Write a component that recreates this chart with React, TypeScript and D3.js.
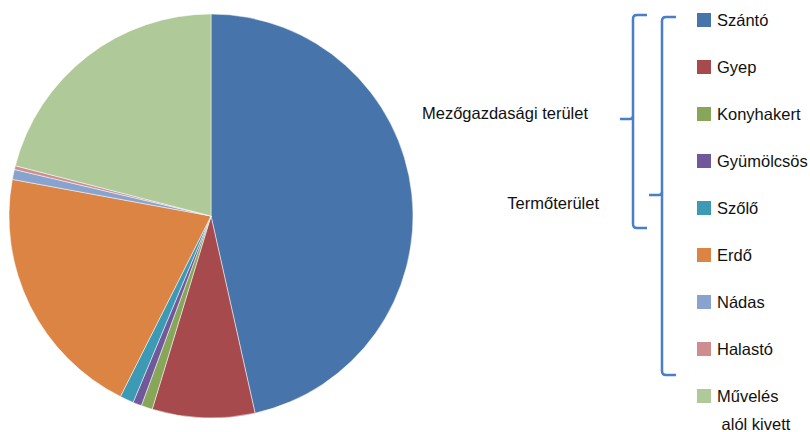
import { useRef, useEffect } from 'react';
import * as d3 from 'd3';

// land use categories and share (%)
const categories = ['Szántó', 'Gyep', 'Konyhakert', 'Gyümölcsös', 'Szőlő', 'Erdő', 'Nádas', 'Halastó', 'Művelés alól kivett'];
const shares = [46.5, 8.2, 0.9, 0.7, 1.1, 20.5, 0.8, 0.3, 21.0];
const colors = ['#4674AB', '#A74A4D', '#88A65A', '#71589A', '#3C9AB4', '#DB8444', '#89A3CF', '#CE8E90', '#AFC998'];
// legend lines (last label wraps)
const legendLines = [['Szántó'], ['Gyep'], ['Konyhakert'], ['Gyümölcsös'], ['Szőlő'], ['Erdő'], ['Nádas'], ['Halastó'], ['Művelés', ' alól kivett']];
// groups: label, first and last category index
const groupLabels = ['Mezőgazdasági terület', 'Termőterület'];
const groupRanges = [[0, 4], [0, 7]];

function App() {
    const svgRef = useRef<SVGSVGElement>(null);

    useEffect(() => {
        const width = 810;
        const height = 432;
        const cx = 211, cy = 216, r = 202;

        const svg = d3.select(svgRef.current)
            .attr('width', width)
            .attr('height', height)
            .style('position', 'absolute')
            .style('left', 0)
            .style('top', 0);
        svg.selectAll('*').remove();

        const font = '"Liberation Sans", Arial, sans-serif';

        //Pie
        const pie = d3.pie<number>().sort(null).value(d => d);
        const arc = d3.arc<d3.PieArcDatum<number>>().innerRadius(0).outerRadius(r);
        const g = svg.append('g').attr('transform', `translate(${cx},${cy})`);
        g.selectAll('path')
            .data(pie(shares))
            .join('path')
            .attr('d', arc)
            .attr('fill', (_, i) => colors[i])
            .attr('stroke', '#fff')
            .attr('stroke-width', 0.5);

        //Legend
        const y = d3.scaleLinear().domain([0, categories.length - 1]).range([20, 396]);
        const legend = svg.append('g').attr('font-family', font).attr('font-size', '16.5px').attr('fill', '#111');
        categories.forEach((c, i) => {
            legend.append('rect')
                .attr('x', 697).attr('y', y(i) - 7)
                .attr('width', 14).attr('height', 14)
                .attr('fill', colors[i]);
            legendLines[i].forEach((line, j) => {
                legend.append('text')
                    .attr('x', 717).attr('y', y(i) + 6 + j * 28)
                    .attr('xml:space', 'preserve')
                    .style('white-space', 'pre')
                    .text(line);
            });
        });

        //Brackets
        const bx = [633, 662];
        const tops = [y(groupRanges[0][0]) - 5, y(groupRanges[1][0]) - 3];
        const bottoms = [y(groupRanges[0][1]) + 20, y(groupRanges[1][1]) + 26];
        const mids = [119, 195];
        const labelY = [119, 209];
        const labelX = [588, 599];
        groupLabels.forEach((label, i) => {
            const x = bx[i], t = tops[i], b = bottoms[i], m = mids[i];
            svg.append('path')
                .attr('d', `M${x + 14},${t} L${x + 4},${t} Q${x},${t} ${x},${t + 4} L${x},${b - 4} Q${x},${b} ${x + 4},${b} L${x + 14},${b}`)
                .attr('fill', 'none')
                .attr('stroke', '#4A7EC6')
                .attr('stroke-width', 2.5);
            svg.append('path')
                .attr('d', `M${x - 13},${m} L${x - 3},${m} Q${x},${m} ${x},${m - 3}`)
                .attr('fill', 'none')
                .attr('stroke', '#4A7EC6')
                .attr('stroke-width', 2.5);
            svg.append('text')
                .attr('x', labelX[i]).attr('y', labelY[i])
                .attr('text-anchor', 'end')
                .attr('font-family', font)
                .attr('font-size', '16.5px')
                .attr('fill', '#111')
                .text(label);
        });
    }, []);

    return <svg ref={svgRef} />;
}

export default App;
